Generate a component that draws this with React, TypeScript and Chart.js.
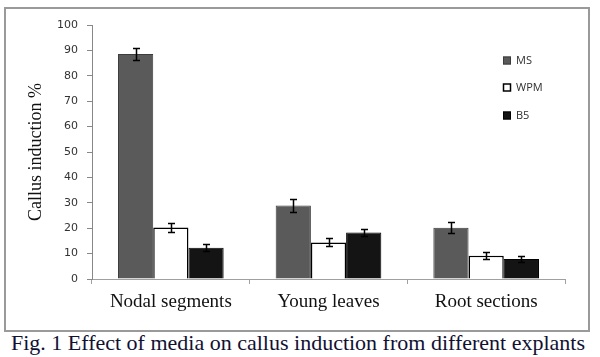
import React, { useEffect, useRef } from "react";
import { Chart, registerables } from "chart.js";

Chart.register(...registerables);

const categories = ["Nodal segments", "Young leaves", "Root sections"];
const seriesNames = ["MS", "WPM", "B5"];
const msValues = [88.6, 28.9, 20.2];
const wpmValues = [20.3, 14.4, 9.2];
const b5Values = [12.3, 18.3, 7.9];
const msErrors = [2.4, 2.4, 2.1];
const wpmErrors = [1.9, 1.6, 1.3];
const b5Errors = [1.4, 1.3, 1.1];
const yTickValues = [0, 10, 20, 30, 40, 50, 60, 70, 80, 90, 100];
const captionText = "Fig. 1 Effect of media on callus induction from different explants";
const yTitle = "Callus induction %";

const errorsBySeries = [msErrors, wpmErrors, b5Errors];

const errorBarPlugin = {
  id: "errorBars",
  afterDatasetsDraw(chart: any) {
    const ctx = chart.ctx;
    const yScale = chart.scales.y;
    ctx.save();
    ctx.strokeStyle = "#000";
    ctx.lineWidth = 1.5;
    chart.data.datasets.forEach((ds: any, di: number) => {
      const meta = chart.getDatasetMeta(di);
      const errs = errorsBySeries[di];
      meta.data.forEach((bar: any, i: number) => {
        const v = ds.data[i];
        const e = errs[i];
        const yTop = Math.round(yScale.getPixelForValue(v + e)) + 0.5;
        const yBot = Math.round(yScale.getPixelForValue(v - e)) + 0.5;
        const x = Math.round(bar.x) + 0.5;
        ctx.beginPath();
        ctx.moveTo(x, yTop);
        ctx.lineTo(x, yBot);
        ctx.moveTo(x - 3.5, yTop);
        ctx.lineTo(x + 3.5, yTop);
        ctx.moveTo(x - 3.5, yBot);
        ctx.lineTo(x + 3.5, yBot);
        ctx.stroke();
      });
    });
    ctx.restore();
  },
};

const legendPlugin = {
  id: "floatLegend",
  afterDraw(chart: any) {
    const ctx = chart.ctx;
    const x0 = 497;
    const ys = [51, 78, 106];
    ctx.save();
    chart.data.datasets.forEach((ds: any, i: number) => {
      const cy = ys[i];
      ctx.fillStyle = ds.backgroundColor;
      ctx.fillRect(x0, cy - 3.5, 8, 8);
      ctx.strokeStyle = ds.borderColor;
      ctx.lineWidth = i === 1 ? 1.5 : 1;
      ctx.strokeRect(x0 + 0.5, cy - 3.5 + 0.5, 7, 7);
      ctx.fillStyle = "#2e2e2e";
      ctx.font = "11px 'Open Sans', sans-serif";
      ctx.textBaseline = "middle";
      ctx.textAlign = "left";
      ctx.fillText(ds.label, x0 + 13, cy + 1);
    });
    ctx.restore();
  },
};

export default function App() {
  const canvasRef = useRef<HTMLCanvasElement | null>(null);

  useEffect(() => {
    if (!canvasRef.current) return;
    const chart = new Chart(canvasRef.current, {
      type: "bar",
      data: {
        labels: categories,
        datasets: [
          {
            label: seriesNames[0],
            data: msValues,
            backgroundColor: "#5a5a5a",
            borderColor: "#3c3c3c",
            borderWidth: 1,
          },
          {
            label: seriesNames[1],
            data: wpmValues,
            backgroundColor: "#ffffff",
            borderColor: "#000000",
            borderWidth: 1.5,
          },
          {
            label: seriesNames[2],
            data: b5Values,
            backgroundColor: "#141414",
            borderColor: "#000000",
            borderWidth: 1,
          },
        ],
      },
      options: {
        responsive: false,
        animation: false,
        devicePixelRatio: 1,
        layout: { padding: { left: 0, right: 23, top: 16, bottom: 0 } },
        plugins: {
          legend: { display: false },
          tooltip: { enabled: false },
        },
        datasets: {
          bar: { categoryPercentage: 0.67, barPercentage: 1.0 },
        },
        scales: {
          x: {
            grid: {
              offset: true,
              drawOnChartArea: false,
              drawTicks: true,
              tickLength: 5,
              color: "#a0a0a0",
            },
            border: { display: true, color: "#a0a0a0" },
            ticks: {
              color: "#111",
              padding: 7,
              font: { family: "'Liberation Serif', serif", size: 19 },
            },
            afterFit: (s: any) => {
              s.height = 51;
            },
          },
          y: {
            min: 0,
            max: 100,
            afterBuildTicks: (s: any) => {
              s.ticks = yTickValues.map((v) => ({ value: v }));
            },
            grid: {
              drawOnChartArea: false,
              drawTicks: true,
              tickLength: 5,
              color: "#888",
            },
            border: { display: true, color: "#888" },
            ticks: {
              color: "#333",
              padding: 9,
              font: { family: "'DejaVu Sans', sans-serif", size: 11 },
            },
            title: {
              display: true,
              text: yTitle,
              color: "#111",
              font: { family: "'Liberation Serif', serif", size: 18 },
              padding: { top: 19, bottom: 0 },
            },
            afterFit: (s: any) => {
              s.width = 86;
            },
          },
        },
      },
      plugins: [errorBarPlugin, legendPlugin],
    });
    return () => chart.destroy();
  }, []);

  return (
    <div
      style={{
        position: "absolute",
        left: 0,
        top: 0,
        width: 600,
        height: 357,
        background: "#fff",
        overflow: "hidden",
      }}
    >
      <div
        style={{
          position: "absolute",
          left: 4,
          top: 7,
          width: 582,
          height: 321,
          border: "2px solid #9a9a9a",
        }}
      >
        <canvas ref={canvasRef} width={582} height={321} style={{ display: "block" }} />
      </div>
      <div
        style={{
          position: "absolute",
          left: 0,
          top: 331,
          width: 596,
          textAlign: "center",
          fontFamily: "'Liberation Serif', 'Times New Roman', serif",
          fontSize: 22,
          lineHeight: "24px",
          color: "#111133",
          whiteSpace: "nowrap",
        }}
      >
        {captionText}
      </div>
    </div>
  );
}
